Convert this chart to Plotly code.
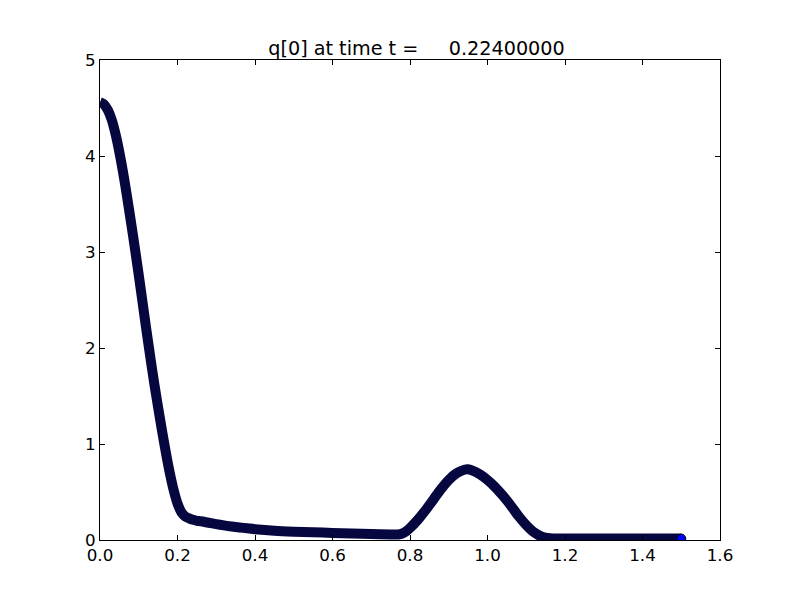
import plotly.graph_objects as go

# Values
x_vals = [0.00, 0.01, 0.02, 0.03, 0.04, 0.05, 0.06, 0.07, 0.08, 0.09,
          0.10, 0.11, 0.12, 0.13, 0.14, 0.15, 0.16, 0.17, 0.18, 0.19,
          0.20, 0.21, 0.22, 0.23, 0.24, 0.25, 0.26, 0.28, 0.30, 0.32,
          0.34, 0.36, 0.38, 0.40, 0.45, 0.50, 0.55, 0.60, 0.65, 0.70,
          0.75, 0.76, 0.77, 0.78, 0.79, 0.80, 0.82, 0.84, 0.86, 0.88,
          0.90, 0.92, 0.94, 0.95, 0.96, 0.98, 1.00, 1.02, 1.04, 1.06,
          1.08, 1.10, 1.12, 1.14, 1.16, 1.20, 1.30, 1.40, 1.50]
q_vals = [4.56, 4.54, 4.48, 4.38, 4.23, 4.04, 3.82, 3.57, 3.31, 3.04,
          2.76, 2.47, 2.18, 1.90, 1.63, 1.38, 1.14, 0.91, 0.70, 0.52,
          0.38, 0.29, 0.245, 0.225, 0.21, 0.20, 0.195, 0.18, 0.165, 0.152,
          0.141, 0.131, 0.122, 0.113, 0.097, 0.087, 0.080, 0.074, 0.068, 0.063,
          0.058, 0.057, 0.058, 0.068, 0.09, 0.125, 0.21, 0.31, 0.42, 0.53,
          0.625, 0.695, 0.732, 0.737, 0.725, 0.685, 0.625, 0.55, 0.46, 0.36,
          0.25, 0.155, 0.08, 0.035, 0.018, 0.015, 0.015, 0.015, 0.015]

x_ticks = [0.0, 0.2, 0.4, 0.6, 0.8, 1.0, 1.2, 1.4, 1.6]
x_tick_labels = ["0.0", "0.2", "0.4", "0.6", "0.8", "1.0", "1.2", "1.4", "1.6"]
y_ticks = [0, 1, 2, 3, 4, 5]
y_tick_labels = ["0", "1", "2", "3", "4", "5"]

title_text = "q[0] at time t =" + "\u00a0" * 5 + "0.22400000"

fig = go.Figure()
fig.add_trace(go.Scatter(
    x=x_vals, y=q_vals, mode="lines",
    line=dict(color="#070740", width=10, shape="spline", smoothing=0.8),
    hoverinfo="skip", showlegend=False,
))
fig.add_trace(go.Scatter(
    x=[x_vals[-1]], y=[q_vals[-1]], mode="markers",
    marker=dict(color="#0000ff", size=9, line=dict(color="black", width=1)),
    showlegend=False,
))

axis_common = dict(
    showline=True, linecolor="black", linewidth=1, mirror="ticks",
    ticks="inside", ticklen=5, tickcolor="black", tickwidth=1,
    showgrid=False, zeroline=False,
    tickfont=dict(family="DejaVu Sans", size=16.7, color="black"),
)

fig.update_layout(
    width=800, height=600,
    margin=dict(l=100, r=80, t=60, b=60),
    paper_bgcolor="white", plot_bgcolor="white",
    title=dict(text=title_text, x=0.5105, xanchor="center", xref="paper",
               y=1 - 48 / 600, yref="container", yanchor="middle",
               font=dict(family="DejaVu Sans", size=19.2, color="black")),
    xaxis=dict(range=[0, 1.6], tickvals=x_ticks, ticktext=x_tick_labels, **axis_common),
    yaxis=dict(range=[0, 5], tickvals=y_ticks, ticktext=y_tick_labels, **axis_common),
)

fig.write_html("out.html", config={"displayModeBar": False},
               post_script="document.body.style.margin='0px';")
